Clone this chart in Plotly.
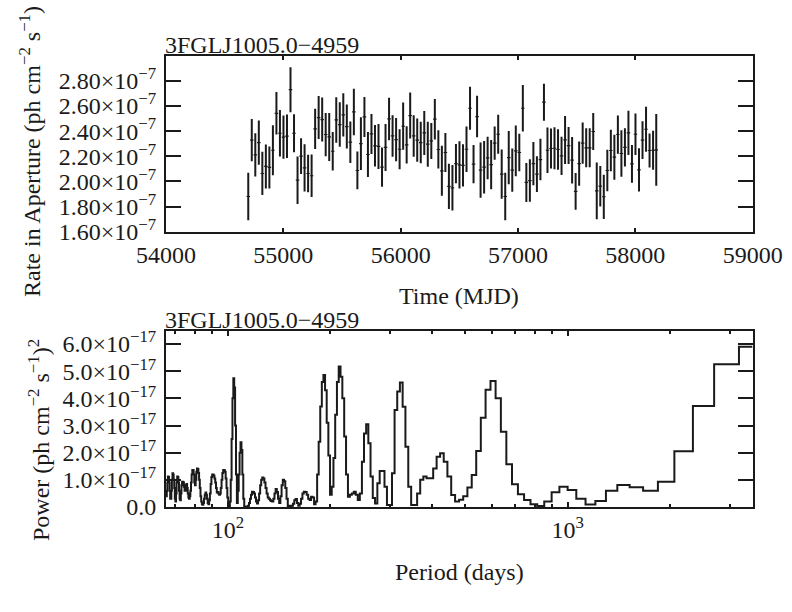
import math
import plotly.graph_objects as go

# ---------------- data: light curve (30-day bins) ----------------
mjd = [
    54701, 54731, 54761, 54791, 54821, 54851, 54881, 54911, 54941, 54971,
    55001, 55031, 55061, 55091, 55121, 55151, 55181, 55211, 55241, 55271,
    55301, 55331, 55361, 55391, 55421, 55451, 55481, 55511, 55541, 55571,
    55601, 55631, 55661, 55691, 55721, 55751, 55781, 55811, 55841, 55871,
    55901, 55931, 55961, 55991, 56021, 56051, 56081, 56111, 56141, 56171,
    56201, 56231, 56261, 56291, 56321, 56351, 56381, 56411, 56441, 56471,
    56501, 56531, 56561, 56591, 56621, 56651, 56681, 56711, 56741, 56771,
    56801, 56831, 56861, 56891, 56921, 56951, 56981, 57011, 57041, 57071,
    57101, 57131, 57161, 57191, 57221, 57251, 57281, 57311, 57341, 57371,
    57401, 57431, 57461, 57491, 57521, 57551, 57581, 57611, 57641, 57671,
    57701, 57731, 57761, 57791, 57821, 57851, 57881, 57911, 57941, 57971,
    58001, 58031, 58061, 58091, 58121, 58151, 58178,
]
# rate in units of 1e-7 ph cm^-2 s^-1
rate = [
    1.880, 2.328, 2.211, 2.309, 2.063, 2.119, 2.111, 2.248, 2.542, 2.383,
    2.352, 2.360, 2.730, 2.383, 2.010, 2.201, 2.108, 2.063, 2.045, 2.418,
    2.508, 2.492, 2.373, 2.354, 2.240, 2.489, 2.452, 2.529, 2.436, 2.312,
    2.553, 2.087, 2.301, 2.513, 2.214, 2.378, 2.283, 2.278, 2.113, 2.270,
    2.497, 2.362, 2.333, 2.256, 2.439, 2.291, 2.524, 2.362, 2.328, 2.309,
    2.386, 2.296, 2.322, 2.495, 2.254, 2.084, 2.230, 1.960, 1.949, 2.142,
    2.132, 2.127, 2.256, 2.582, 2.137, 2.516, 2.090, 2.113, 2.187, 2.134,
    2.304, 2.375, 2.058, 1.880, 2.190, 2.090, 2.243, 2.230, 2.582, 1.992,
    2.007, 2.142, 2.058, 2.174, 2.630, 2.248, 2.262, 2.264, 2.254, 2.203,
    2.330, 2.285, 2.169, 1.920, 2.142, 2.304, 2.267, 2.267, 2.397, 1.925,
    1.962, 1.878, 2.087, 2.246, 2.193, 2.373, 2.222, 2.270, 2.386, 2.140,
    2.375, 2.092, 2.328, 2.415, 2.246, 2.248, 2.251,
]
rate_err = [
    0.188, 0.168, 0.172, 0.176, 0.172, 0.175, 0.167, 0.199, 0.169, 0.185,
    0.172, 0.173, 0.179, 0.151, 0.189, 0.143, 0.188, 0.150, 0.169, 0.161,
    0.171, 0.175, 0.172, 0.191, 0.154, 0.181, 0.177, 0.172, 0.175, 0.165,
    0.185, 0.150, 0.210, 0.159, 0.179, 0.159, 0.165, 0.179, 0.156, 0.187,
    0.169, 0.165, 0.172, 0.159, 0.188, 0.148, 0.183, 0.165, 0.172, 0.165,
    0.175, 0.179, 0.143, 0.161, 0.152, 0.199, 0.155, 0.180, 0.181, 0.156,
    0.188, 0.168, 0.181, 0.172, 0.152, 0.165, 0.220, 0.209, 0.169, 0.196,
    0.132, 0.155, 0.196, 0.188, 0.212, 0.172, 0.202, 0.150, 0.185, 0.155,
    0.169, 0.172, 0.143, 0.165, 0.147, 0.181, 0.159, 0.167, 0.161, 0.152,
    0.191, 0.147, 0.185, 0.146, 0.176, 0.164, 0.155, 0.155, 0.148, 0.225,
    0.161, 0.176, 0.165, 0.165, 0.179, 0.152, 0.185, 0.152, 0.176, 0.150,
    0.165, 0.172, 0.150, 0.179, 0.136, 0.156, 0.285,
]
bin_half_width_days = 15
rate_ticks = [1.6, 1.8, 2.0, 2.2, 2.4, 2.6, 2.8]
rate_ticktext = ["%.2f\u00d710<sup>\u22127</sup>" % v for v in rate_ticks]
time_ticks = [54000, 55000, 56000, 57000, 58000, 59000]
time_ticktext = [str(v) for v in time_ticks]

# ---------------- data: periodogram ----------------
# frequency grid index k (f = k / 17480 d^-1), 5x oversampled
freq_index = list(range(5, 267))
freq_grid_days = 17480.0
# power in units of 1e-17 (ph cm^-2 s^-1)^2, for k = 5 ... 266
power = [
    5.90, 5.26, 3.72, 2.05, 0.93, 0.60, 0.73, 0.81, 0.60, 0.22,
    0.09, 0.30, 0.63, 0.75, 0.54, 0.20, 0.04, 0.10, 0.26, 0.47,
    0.84, 1.57, 2.77, 4.00, 4.64, 4.32, 3.29, 2.06, 1.18, 0.72,
    0.40, 0.27, 0.20, 0.44, 1.12, 1.67, 1.98, 1.85, 1.42, 1.06,
    1.06, 1.12, 1.00, 0.50, 0.07, 0.07, 0.75, 2.22, 3.69, 4.58,
    4.25, 3.57, 1.24, 0.07, 0.07, 0.75, 1.33, 1.33, 0.87, 0.13,
    0.33, 1.12, 2.35, 3.05, 2.71, 1.67, 0.50, 0.26, 0.45, 0.56,
    0.50, 0.45, 0.38, 1.20, 2.60, 4.00, 4.80, 5.17, 4.60, 3.40,
    1.80, 0.75, 0.45, 1.90, 3.10, 4.30, 4.86, 4.60, 3.70, 2.40,
    1.20, 0.20, 0.10, 0.35, 0.38, 0.26, 0.30, 0.45, 0.55, 0.56,
    0.50, 0.30, 0.12, 0.05, 0.15, 0.29, 0.25, 0.12, 0.05, 0.02,
    0.05, 0.03, 0.30, 0.70, 0.95, 1.00, 0.80, 0.40, 0.15, 0.30,
    0.55, 0.66, 0.50, 0.30, 0.20, 0.22, 0.25, 0.30, 0.35, 0.50,
    0.70, 0.90, 1.05, 1.09, 1.00, 0.80, 0.50, 0.25, 0.13, 0.20,
    0.35, 0.50, 0.55, 0.56, 0.45, 0.30, 0.15, 0.05, 0.02, 0.01,
    0.02, 0.02, 0.30, 1.20, 2.10, 2.38, 2.00, 1.20, 0.60, 0.15,
    1.20, 3.00, 4.40, 4.74, 4.00, 2.50, 1.00, 0.20, 0.01, 0.10,
    0.35, 0.70, 1.05, 1.30, 1.36, 1.36, 1.25, 1.00, 0.70, 0.50,
    0.45, 0.50, 0.55, 0.53, 0.70, 0.90, 1.05, 1.15, 1.20, 1.20,
    1.10, 0.85, 0.50, 0.25, 0.10, 0.15, 0.30, 0.45, 0.53, 0.45,
    0.30, 0.15, 0.08, 0.10, 0.20, 0.40, 0.70, 1.00, 1.25, 1.40,
    1.42, 1.30, 1.00, 0.80, 0.90, 1.20, 1.36, 1.36, 1.20, 0.90,
    0.60, 0.40, 0.30, 0.35, 0.50, 0.70, 0.85, 0.80, 0.60, 0.60,
    0.75, 0.90, 0.93, 0.93, 0.80, 0.50, 0.25, 0.30, 0.60, 0.90,
    1.10, 1.12, 0.90, 0.50, 0.20, 0.30, 0.70, 1.00, 1.20, 1.24,
    1.00, 0.60, 0.30, 0.30, 0.60, 0.90, 1.10, 1.12, 0.90, 0.60,
    0.40, 0.50,
]
power_ticks = [0, 1, 2, 3, 4, 5, 6]
power_ticktext = ["0.0"] + ["%.1f\u00d710<sup>\u221217</sup>" % v for v in power_ticks[1:]]
period_major = [100, 1000]
period_major_text = ["10<sup>2</sup>", "10<sup>3</sup>"]
period_minor = [70, 80, 90, 200, 300, 400, 500, 600, 700, 800, 900, 2000, 3000]

source_name = "3FGLJ1005.0\u22124959"

# ---------------- figure ----------------
W, H = 792, 612
INK = "#1a1a1a"
FONT = "Liberation Serif, Times New Roman, Times, serif"

periods = [freq_grid_days / k for k in freq_index]
pairs = sorted(zip(periods, power))
px_sorted = [p for p, _ in pairs]
pw_sorted = [v for _, v in pairs]

fig = go.Figure()
fig.add_trace(go.Scatter(
    x=mjd, y=rate, mode="markers",
    marker=dict(size=1, color=INK),
    error_y=dict(type="data", array=rate_err, visible=True, thickness=2, width=0, color=INK),
    error_x=dict(type="constant", value=bin_half_width_days, visible=True, thickness=1.2, width=0, color=INK),
    xaxis="x", yaxis="y", showlegend=False, hoverinfo="skip",
))
fig.add_trace(go.Scatter(
    x=px_sorted, y=pw_sorted, mode="lines",
    line=dict(shape="hvh", width=2, color=INK),
    xaxis="x2", yaxis="y2", showlegend=False, hoverinfo="skip",
))

L, R = 166, 752.7
top_t, top_b = 55.7, 231.7
bot_t, bot_b = 331, 507

def xd(a, b):
    return [a / W, b / W]

def yd(t, b):
    return [1 - b / H, 1 - t / H]

tickfont = dict(family=FONT, size=24, color=INK)
common = dict(showline=True, linewidth=2, linecolor=INK, mirror="ticks",
              ticks="inside", tickcolor=INK, tickwidth=2, showgrid=False,
              zeroline=False, tickfont=tickfont, automargin=False)

fig.update_layout(
    width=W, height=H, autosize=False,
    margin=dict(l=0, r=0, t=0, b=0, pad=0),
    paper_bgcolor="white", plot_bgcolor="white",
    font=dict(family=FONT, color=INK),
    xaxis=dict(domain=xd(L, R), anchor="y", range=[54000, 59000],
               tickmode="array", tickvals=time_ticks, ticktext=time_ticktext,
               ticklen=4, ticklabelstandoff=0, **common),
    yaxis=dict(domain=yd(top_t, top_b), anchor="x", range=[1.6, 3.0],
               tickmode="array", tickvals=rate_ticks, ticktext=rate_ticktext,
               ticklen=15, ticklabelstandoff=3, **common),
    xaxis2=dict(domain=xd(L, R), anchor="y2", type="log",
                range=[1.8178, 3.5444],
                tickmode="array", tickvals=period_major, ticktext=period_major_text,
                ticklen=5, ticklabelstandoff=0,
                minor=dict(tickmode="array", tickvals=period_minor, ticks="inside",
                           ticklen=3, tickwidth=1.5, tickcolor=INK),
                **common),
    yaxis2=dict(domain=yd(bot_t, bot_b), anchor="x2", range=[0, 6.48],
                tickmode="array", tickvals=power_ticks, ticktext=power_ticktext,
                ticklen=15, ticklabelstandoff=3, **common),
)

ann_font = dict(family=FONT, size=24, color=INK)
fig.add_annotation(text=source_name, x=L / W, y=1 - top_t / H, xref="paper", yref="paper",
                   xanchor="left", yanchor="bottom", showarrow=False, font=ann_font,
                   xshift=-3, yshift=-4)
fig.add_annotation(text=source_name, x=L / W, y=1 - bot_t / H, xref="paper", yref="paper",
                   xanchor="left", yanchor="bottom", showarrow=False, font=ann_font,
                   xshift=-3, yshift=-4)
fig.add_annotation(text="Time (MJD)", x=459 / W, y=1 - 296 / H, xref="paper", yref="paper",
                   xanchor="center", yanchor="middle", showarrow=False, font=ann_font)
fig.add_annotation(text="Period (days)", x=459 / W, y=1 - 572 / H, xref="paper", yref="paper",
                   xanchor="center", yanchor="middle", showarrow=False, font=ann_font)
fig.add_annotation(text="Rate in Aperture (ph cm<sup>\u22122</sup> s<sup>\u22121</sup>)",
                   x=30 / W, y=1 - 152 / H, xref="paper", yref="paper", textangle=-90,
                   xanchor="center", yanchor="middle", showarrow=False, font=ann_font)
fig.add_annotation(text="Power (ph cm<sup>\u22122</sup> s<sup>\u22121</sup>)<sup>2</sup>",
                   x=39 / W, y=1 - 440 / H, xref="paper", yref="paper", textangle=-90,
                   xanchor="center", yanchor="middle", showarrow=False, font=ann_font)

fig.write_html("out.html", post_script="document.body.style.margin='0';document.body.style.padding='0';")
